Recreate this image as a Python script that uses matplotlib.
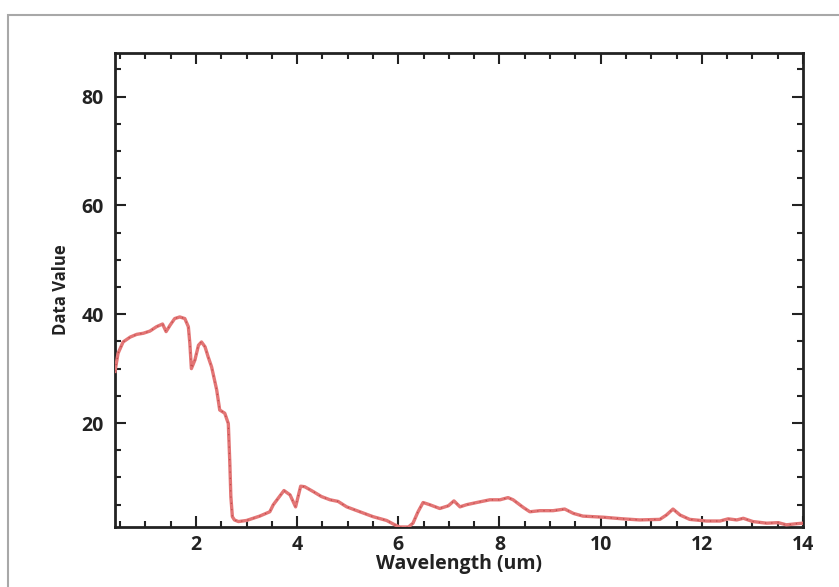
import matplotlib
matplotlib.use("Agg")
import matplotlib.pyplot as plt
from matplotlib.ticker import MultipleLocator
from matplotlib.patches import Rectangle

wavelength = [0.40, 0.46, 0.56, 0.70, 0.83, 0.96, 1.09, 1.22, 1.34, 1.41, 1.49, 1.58, 1.68,
              1.78, 1.85, 1.88, 1.91, 1.98, 2.05, 2.11, 2.18, 2.24, 2.31, 2.41, 2.47, 2.57,
              2.64, 2.67, 2.69, 2.72, 2.76, 2.84, 3.00, 3.26, 3.46, 3.53, 3.74, 3.86, 3.97,
              4.07, 4.15, 4.32, 4.48, 4.65, 4.81, 4.98, 5.24, 5.50, 5.77, 5.93, 6.03, 6.20,
              6.29, 6.39, 6.49, 6.62, 6.82, 6.99, 7.10, 7.22, 7.35, 7.55, 7.81, 8.01, 8.17,
              8.27, 8.47, 8.60, 8.80, 9.06, 9.29, 9.46, 9.65, 10.05, 10.44, 10.77, 11.17,
              11.30, 11.43, 11.57, 11.76, 12.09, 12.36, 12.52, 12.69, 12.82, 13.01, 13.28,
              13.51, 13.67, 13.87, 14.00]
data_value = [29.5, 32.8, 34.9, 35.8, 36.3, 36.5, 36.9, 37.7, 38.2, 36.8, 38.0, 39.2, 39.5,
              39.2, 37.7, 34.6, 30.0, 31.6, 34.3, 34.9, 34.0, 32.2, 30.3, 26.1, 22.4, 21.8,
              19.9, 12.6, 6.5, 2.8, 2.2, 1.9, 2.1, 2.9, 3.7, 5.0, 7.6, 6.8, 4.6,
              8.4, 8.3, 7.4, 6.5, 5.9, 5.6, 4.6, 3.7, 2.8, 2.1, 1.3, 0.9, 0.9,
              1.6, 3.7, 5.4, 5.0, 4.3, 4.8, 5.7, 4.6, 5.0, 5.4, 5.9, 5.9, 6.3,
              5.9, 4.5, 3.7, 3.9, 3.9, 4.2, 3.4, 2.9, 2.7, 2.4, 2.2, 2.3,
              3.1, 4.2, 3.1, 2.3, 2.0, 2.0, 2.4, 2.2, 2.5, 1.9, 1.6,
              1.7, 1.3, 1.5, 1.6]

x_ticks = [2, 4, 6, 8, 10, 12, 14]
y_ticks = [20, 40, 60, 80]

W, H = 839, 587
fig = plt.figure(figsize=(W / 100, H / 100), dpi=100)
fig.patch.set_facecolor("white")

# outer light-gray frame (extends beyond right/bottom edges)
fig.patches.append(Rectangle((8 / W, -0.05), 1.2, (1 - 15 / H) + 0.05,
                             transform=fig.transFigure, fill=False,
                             edgecolor="#a8a8a8", linewidth=1.5, zorder=0))

ax = fig.add_axes([115 / W, 1 - 527 / H, (803 - 115) / W, (527 - 53) / H])

ax.plot(wavelength, data_value, color="#e37575", linewidth=2.4, solid_joinstyle="round", zorder=3)
ax.plot(wavelength, data_value, color="#a83030", linewidth=0.9, linestyle=(0, (1, 4)), alpha=0.6, zorder=4)

ax.set_xlim(0.4, 14)
ax.set_ylim(0.9, 88)
ax.set_xticks(x_ticks)
ax.set_yticks(y_ticks)
ax.xaxis.set_minor_locator(MultipleLocator(0.5))
ax.yaxis.set_minor_locator(MultipleLocator(5))

font = "Open Sans"
ax.tick_params(which="both", direction="in", top=True, right=True, color="#222222")
ax.tick_params(which="major", length=8, width=1.5)
ax.tick_params(which="minor", length=4.5, width=1.5)
ax.tick_params(axis="x", which="major", labelsize=14, pad=6)
ax.tick_params(axis="y", which="major", labelsize=14, pad=8)
for lab in ax.get_xticklabels() + ax.get_yticklabels():
    lab.set_fontfamily(font)
    lab.set_fontweight("bold")
    lab.set_color("#222222")

for sp in ax.spines.values():
    sp.set_linewidth(2)
    sp.set_color("#222222")

ax.set_xlabel("Wavelength (um)", fontfamily=font, fontweight="bold", fontsize=14,
              color="#222222", labelpad=-1)
ax.set_ylabel("Data Value", fontfamily=font, fontweight="bold", fontsize=12,
              color="#222222", labelpad=8)

fig.savefig("out.png", dpi=100, facecolor="white")
